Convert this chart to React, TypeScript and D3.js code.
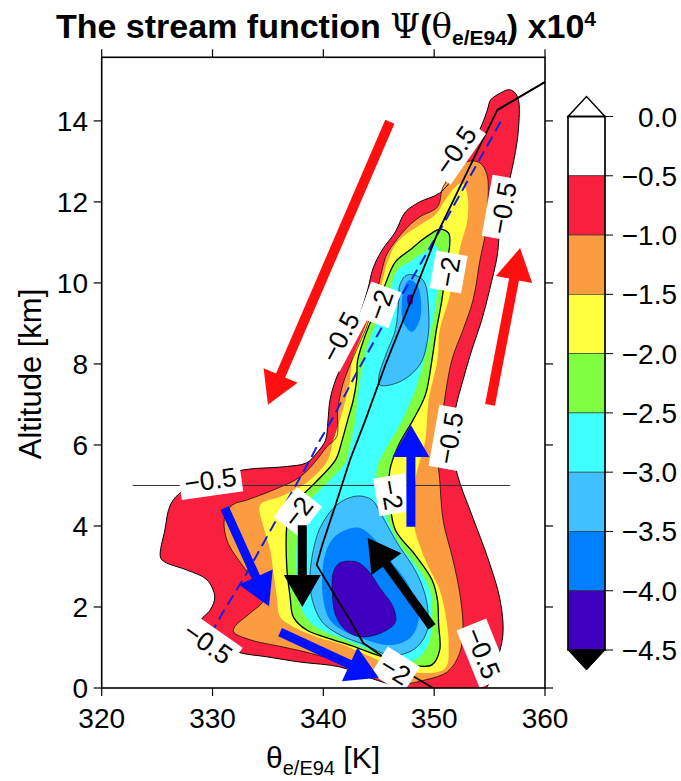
import React from "react";
import * as d3 from "d3";

type P = [number, number];

// axis config
const xTicks = [320, 330, 340, 350, 360];
const yTicks = [0, 2, 4, 6, 8, 10, 12, 14];
const cbLevels = [0.0, -0.5, -1.0, -1.5, -2.0, -2.5, -3.0, -3.5, -4.0, -4.5];
const cbLabels = ["0.0", "\u22120.5", "\u22121.0", "\u22121.5", "\u22122.0", "\u22122.5", "\u22123.0", "\u22123.5", "\u22124.0", "\u22124.5"];
const bandColors = ["#ffffff", "#f9203f", "#fb9c40", "#ffff40", "#80ff40", "#40ffff", "#40c0ff", "#0080ff", "#4000c0"];

// contour outlines (theta K, altitude km)
const psiM05: P[] = [
  [355.1, 14.52], [356.0, 14.69], [356.7, 14.77], [357.2, 14.72], [357.6, 14.52], [357.6, 13.78], [357.2, 13.04],
  [356.6, 12.3], [355.95, 11.43], [355.7, 10.69], [355.0, 9.83], [354.3, 9.09], [353.4, 8.35], [352.6, 7.6],
  [351.9, 6.86], [351.6, 6.12], [352.1, 5.26], [353.4, 4.27], [354.9, 3.16], [355.95, 2.17], [356.2, 1.31],
  [355.5, 0.57], [354.3, -0.1], [348.7, -0.1], [346.5, 0.05], [344.2, 0.25], [341.5, 0.52], [337.9, 0.64],
  [334.9, 0.77], [332.2, 0.89], [329.8, 1.19], [328.9, 1.63], [329.8, 1.93], [330.2, 2.25], [329.5, 2.67],
  [327.7, 2.91], [325.7, 3.11], [325.3, 3.23], [325.7, 3.9], [326.2, 4.52], [327.2, 4.84], [330.2, 5.14],
  [332.7, 5.38], [336.4, 5.46], [338.5, 5.56], [339.4, 5.8], [340.2, 6.12], [340.4, 6.54], [340.6, 7.11],
  [341.1, 7.6], [341.7, 7.98], [342.6, 8.59], [343.3, 9.21], [344.0, 9.83], [344.5, 10.37], [345.3, 10.81],
  [346.5, 11.26], [347.4, 11.75], [348.7, 12.0], [350.5, 12.22], [351.9, 12.67], [353.2, 13.28], [354.3, 13.9],
  [354.8, 14.27],
];
const psiM10: P[] = [
  [352.34, 12.91], [353.24, 13.01], [354.14, 12.96], [354.77, 12.67], [354.86, 12.05], [354.68, 11.31],
  [354.14, 10.57], [353.51, 9.58], [352.6, 8.84], [351.6, 8.1], [350.8, 6.86], [350.3, 5.8], [350.5, 5.14],
  [350.8, 4.15], [351.7, 3.16], [352.3, 2.35], [352.6, 1.51], [352.3, 0.86], [351.2, 0.4], [349.2, 0.2],
  [346.9, 0.1], [344.2, 0.32], [341.5, 0.64], [339.1, 0.84], [336.4, 1.01], [333.4, 1.19], [331.9, 1.38],
  [332.0, 1.51], [333.4, 1.85], [334.6, 2.17], [334.0, 2.59], [332.8, 2.99], [331.3, 3.65], [331.1, 4.22],
  [331.8, 4.52], [333.1, 4.64], [335.5, 4.89], [337.9, 5.21], [339.4, 5.63], [340.3, 5.95], [341.2, 6.2],
  [341.3, 6.86], [341.8, 7.53], [343.0, 8.35], [343.9, 8.91], [344.8, 9.75], [345.3, 10.32], [345.7, 10.69],
  [346.6, 11.06], [347.6, 11.38], [348.7, 11.63], [350.3, 11.88], [350.8, 12.37], [352.1, 12.86],
];
const psiM15: P[] = [
  [352.5, 12.47], [353.0, 12.17], [353.0, 11.56], [352.4, 10.94], [351.9, 10.32], [351.3, 9.58], [350.5, 8.84],
  [350.3, 8.1], [349.5, 7.11], [349.2, 6.12], [348.3, 5.14], [348.1, 4.15], [349.2, 3.16], [350.5, 2.42],
  [351.1, 1.68], [351.3, 1.06], [351.0, 0.49], [348.7, 0.37], [346.0, 0.57], [343.3, 0.89], [341.5, 1.09],
  [339.4, 1.26], [337.3, 1.51], [336.1, 1.75], [335.8, 2.25], [335.5, 2.84], [335.2, 3.41], [334.6, 3.98],
  [334.3, 4.52], [336.1, 4.72], [337.9, 4.96], [339.1, 5.21], [340.4, 5.63], [340.9, 6.12], [341.5, 6.62],
  [342.0, 7.11], [342.4, 7.6], [342.6, 8.1], [343.3, 8.59], [344.2, 9.21], [345.1, 9.83], [345.8, 10.52],
  [346.5, 10.94], [347.4, 11.19], [348.7, 11.43], [350.1, 11.68], [351.0, 12.05], [351.9, 12.37],
];
const psiM20: P[] = [
  [349.8, 11.23], [350.5, 11.33], [351.3, 11.23], [351.4, 10.94], [351.1, 10.44], [350.7, 9.58], [350.2, 8.84],
  [349.8, 8.1], [349.2, 7.23], [348.1, 6.62], [346.8, 6.0], [346.0, 5.38], [346.0, 4.64], [346.5, 3.9],
  [348.3, 3.28], [349.8, 2.67], [350.3, 2.17], [350.4, 1.56], [350.5, 0.94], [349.8, 0.57], [347.8, 0.57],
  [345.1, 0.79], [342.4, 1.06], [340.9, 1.19], [338.5, 1.43], [337.3, 1.75], [337.0, 2.25], [336.7, 2.99],
  [336.7, 4.02], [337.0, 4.52], [338.4, 4.84], [339.7, 5.19], [341.1, 5.63], [341.7, 6.12], [342.2, 6.62],
  [342.7, 7.11], [343.0, 7.6], [343.1, 8.1], [343.8, 8.72], [344.7, 9.33], [345.4, 9.83], [346.5, 10.52],
  [347.8, 10.81], [348.9, 11.06],
];
const psiM25: P[] = [
  [349.45, 10.81], [349.9, 10.96], [350.35, 10.86], [350.5, 10.52], [350.3, 9.83], [349.9, 9.09], [349.2, 8.22],
  [348.3, 7.36], [346.9, 6.49], [345.6, 5.88], [344.8, 5.38], [345.1, 4.77], [345.8, 4.15], [346.9, 3.53],
  [348.3, 3.04], [349.6, 2.42], [349.8, 1.68], [349.45, 1.06], [348.3, 0.69], [346.5, 0.69], [344.2, 0.94],
  [342.0, 1.19], [340.2, 1.38], [338.8, 1.63], [337.9, 2.05], [337.6, 2.67], [337.6, 3.65], [337.9, 4.27],
  [338.8, 4.64], [340.6, 5.14], [342.0, 5.58], [342.4, 6.0], [342.9, 6.62], [343.1, 7.23], [343.5, 7.85],
  [344.0, 8.47], [345.1, 9.21], [346.0, 9.83], [346.7, 10.32], [347.8, 10.52], [348.7, 10.69],
];
const psiM30Upper: P[] = [
  [347.6, 10.2], [349.0, 10.07], [349.5, 9.33], [349.4, 8.59], [348.7, 7.98], [346.9, 7.56], [345.1, 7.48],
  [345.0, 7.68], [345.7, 8.27], [346.5, 8.84], [346.8, 9.58], [346.9, 9.95],
];
const psiM30Lower: P[] = [
  [343.3, 4.74], [344.4, 4.64], [345.1, 4.35], [346.0, 3.9], [346.9, 3.48], [348.0, 3.04], [348.9, 2.54],
  [349.4, 2.0], [349.3, 1.36], [348.1, 0.94], [346.0, 0.81], [343.8, 1.06], [341.5, 1.31], [339.9, 1.63],
  [339.0, 2.17], [338.8, 2.79], [339.1, 3.41], [339.7, 3.95], [340.9, 4.44], [342.1, 4.67],
];
const psiM35Upper: P[] = [
  [347.8, 10.07], [348.5, 9.93], [348.8, 9.58], [348.7, 9.09], [348.0, 8.79], [347.2, 9.04], [347.1, 9.58], [347.3, 9.9],
];
const psiM35Lower: P[] = [
  [342.0, 3.9], [343.3, 3.95], [344.7, 3.65], [346.0, 3.16], [347.4, 2.67], [348.3, 2.17], [348.6, 1.68],
  [347.8, 1.23], [346.0, 1.06], [343.8, 1.19], [342.0, 1.38], [340.6, 1.68], [340.0, 2.17], [339.9, 2.79],
  [340.2, 3.33], [340.9, 3.7],
];
const psiM40Upper: P[] = [
  [347.6, 9.68], [347.95, 9.72], [348.1, 9.58], [347.95, 9.46], [347.65, 9.48], [347.55, 9.58],
];
const psiM40Lower: P[] = [
  [341.5, 3.09], [343.0, 3.11], [344.0, 2.91], [345.1, 2.47], [346.3, 2.0], [346.5, 1.63], [345.6, 1.41],
  [343.5, 1.26], [342.0, 1.43], [341.1, 1.8], [340.8, 2.42], [340.9, 2.86],
];

// overlay lines
const profileLine: P[] = [
  [360.0, 14.96], [355.7, 14.27], [350.3, 11.23], [347.4, 9.21], [345.6, 7.98], [343.8, 6.62], [342.4, 5.63],
  [341.1, 4.52], [339.9, 3.53], [339.4, 3.04], [340.9, 2.35], [342.4, 1.68], [343.6, 1.11], [346.7, 0.52], [349.9, 0.0],
];
const dashedLine: P[] = [
  [356.0, 13.98], [351.2, 11.63], [348.1, 10.15], [345.8, 9.16], [343.0, 7.78], [340.9, 6.69], [339.7, 6.12],
  [338.8, 5.63], [336.1, 4.32], [333.1, 2.84], [330.9, 1.85], [329.2, 1.01],
];
const refLine: P[] = [[322.8, 5.0], [356.85, 5.0]];

// contour labels
const labelText = ["\u22120.5", "\u22120.5", "\u22122", "\u22122", "\u22120.5", "\u22120.5", "\u22120.5", "\u22122", "\u22122", "\u22120.5", "\u22122", "\u22120.5"];
const labelTheta = [351.9, 356.2, 351.3, 345.1, 341.5, 351.4, 329.8, 337.7, 346.2, 354.4, 346.5, 329.6];
const labelZ = [13.28, 11.85, 10.27, 9.46, 8.67, 6.17, 5.14, 4.35, 4.77, 0.86, 0.44, 1.11];
const labelAngle = [-55, -80, -80, -70, -62, -80, -8, -52, 80, 68, 32, 35];

// arrows: [theta, z] of tail and tip
const arrowColor = ["#ff1010", "#ff1010", "#0010ff", "#0010ff", "#0010ff", "#000000", "#000000"];
const arrowTail: P[] = [[346.0, 13.98], [355.04, 6.99], [347.9, 3.98], [331.1, 4.44], [336.1, 1.38], [338.1, 4.02], [349.8, 1.51]];
const arrowTip: P[] = [[335.0, 6.99], [357.75, 10.86], [347.9, 6.49], [335.1, 2.02], [345.0, 0.25], [338.1, 2.0], [344.0, 3.7]];

const FONT = "'Liberation Sans', Arial, Helvetica, sans-serif";

const xs = d3.scaleLinear().domain([320, 360]).range([101.7, 545]);
const ys = d3.scaleLinear().domain([0, 15.57]).range([688, 57.3]);
const cbScale = d3.scaleLinear().domain([0, -4.5]).range([116.5, 650]);

function arrowPoints(t: P, h: P, shaft: number, headW: number, headL: number): string {
  const x1 = xs(t[0]), y1 = ys(t[1]), x2 = xs(h[0]), y2 = ys(h[1]);
  const dx = x2 - x1, dy = y2 - y1;
  const L = Math.hypot(dx, dy);
  const ux = dx / L, uy = dy / L;
  const px = -uy, py = ux;
  const bx = x2 - ux * headL, by = y2 - uy * headL;
  const pts: P[] = [
    [x1 + px * shaft / 2, y1 + py * shaft / 2],
    [bx + px * shaft / 2, by + py * shaft / 2],
    [bx + px * headW / 2, by + py * headW / 2],
    [x2, y2],
    [bx - px * headW / 2, by - py * headW / 2],
    [bx - px * shaft / 2, by - py * shaft / 2],
    [x1 - px * shaft / 2, y1 - py * shaft / 2],
  ];
  return pts.map((p) => p.join(",")).join(" ");
}

export default function App() {
  const closed = d3
    .line<P>()
    .x((d) => xs(d[0]))
    .y((d) => ys(d[1]))
    .curve(d3.curveCatmullRomClosed.alpha(0.5));
  const open = d3
    .line<P>()
    .x((d) => xs(d[0]))
    .y((d) => ys(d[1]));

  const fills: { poly: P[]; color: string }[] = [
    { poly: psiM05, color: bandColors[1] },
    { poly: psiM10, color: bandColors[2] },
    { poly: psiM15, color: bandColors[3] },
    { poly: psiM20, color: bandColors[4] },
    { poly: psiM25, color: bandColors[5] },
    { poly: psiM30Upper, color: bandColors[6] },
    { poly: psiM30Lower, color: bandColors[6] },
    { poly: psiM35Upper, color: bandColors[7] },
    { poly: psiM35Lower, color: bandColors[7] },
    { poly: psiM40Upper, color: bandColors[8] },
    { poly: psiM40Lower, color: bandColors[8] },
  ];
  const strokes: { poly: P[]; w: number }[] = [
    { poly: psiM05, w: 1.0 },
    { poly: psiM10, w: 0.7 },
    { poly: psiM20, w: 1.3 },
    { poly: psiM30Upper, w: 0.6 },
    { poly: psiM30Lower, w: 0.6 },
    { poly: psiM40Lower, w: 0.5 },
  ];

  const x0 = xs(320), x1 = xs(360), y0 = ys(0), y1 = ys(15.57);
  const cbL = 568, cbR = 605, cbMid = (cbL + cbR) / 2;
  const tickLen = 8;

  return (
    <svg
      width={681}
      height={781}
      viewBox="0 0 681 781"
      style={{ position: "absolute", left: 0, top: 0, display: "block", background: "#fff" }}
      fontFamily={FONT}
    >
      <rect x={0} y={0} width={681} height={781} fill="#fff" />
      <defs>
        <clipPath id="plotClip">
          <rect x={x0} y={y1} width={x1 - x0} height={y0 - y1} />
        </clipPath>
      </defs>

      {/* title */}
      <text x={326} y={38} textAnchor="middle" fontSize={34} fontWeight="bold" fill="#000">
        <tspan>The stream function </tspan>
        <tspan fontFamily="'DejaVu Serif', 'Liberation Serif', serif" fontWeight="normal">{"\u03A8"}</tspan>
        <tspan>(</tspan>
        <tspan fontFamily="'DejaVu Serif', 'Liberation Serif', serif" fontWeight="normal">{"\u03B8"}</tspan>
        <tspan fontSize={21} dy={7}>e/E94</tspan>
        <tspan dy={-7}>) x10</tspan>
        <tspan fontSize={21} dy={-12}>4</tspan>
      </text>

      <g clipPath="url(#plotClip)">
        {fills.map((f, i) => (
          <path key={"f" + i} d={closed(f.poly) || ""} fill={f.color} stroke="none" />
        ))}
        {strokes.map((s, i) => (
          <path key={"s" + i} d={closed(s.poly) || ""} fill="none" stroke="#000" strokeWidth={s.w} />
        ))}
        <path d={open(refLine) || ""} fill="none" stroke="#333" strokeWidth={1} />
        <path d={open(dashedLine) || ""} fill="none" stroke="#1020e0" strokeWidth={2} strokeDasharray="11 6" />
        <path d={open(profileLine) || ""} fill="none" stroke="#000" strokeWidth={1.8} />
        {labelText.map((t, i) => {
          const w = t.length > 2 ? 62 : 38;
          return (
            <g key={"l" + i} transform={`translate(${xs(labelTheta[i])},${ys(labelZ[i])}) rotate(${labelAngle[i]})`}>
              <rect x={-w / 2} y={-16} width={w} height={32} fill="#fff" />
              <text x={0} y={9.5} textAnchor="middle" fontSize={26.5} fill="#000">
                {t}
              </text>
            </g>
          );
        })}
        {arrowColor.map((c, i) => (
          <polygon
            key={"a" + i}
            points={arrowPoints(arrowTail[i], arrowTip[i], i < 2 ? 10 : 9, 37, 32)}
            fill={c}
          />
        ))}
      </g>
      {/* profile line continues to the top-right corner */}
      <path d={open(profileLine.slice(0, 2)) || ""} fill="none" stroke="#000" strokeWidth={1.8} />

      {/* frame */}
      <rect x={x0} y={y1} width={x1 - x0} height={y0 - y1} fill="none" stroke="#000" strokeWidth={1.6} />

      {/* x ticks */}
      {xTicks.map((t) => (
        <g key={"xt" + t}>
          <line x1={xs(t)} x2={xs(t)} y1={y0} y2={y0 + tickLen} stroke="#000" strokeWidth={1.2} />
          <line x1={xs(t)} x2={xs(t)} y1={y1} y2={y1 - tickLen} stroke="#000" strokeWidth={1.2} />
          <text x={xs(t)} y={728} textAnchor="middle" fontSize={28} fill="#000">
            {t}
          </text>
        </g>
      ))}
      {/* y ticks */}
      {yTicks.map((t) => (
        <g key={"yt" + t}>
          <line x1={x0} x2={x0 - tickLen} y1={ys(t)} y2={ys(t)} stroke="#000" strokeWidth={1.2} />
          <line x1={x1} x2={x1 + tickLen} y1={ys(t)} y2={ys(t)} stroke="#000" strokeWidth={1.2} />
          <text x={88} y={ys(t) + 10} textAnchor="end" fontSize={28} fill="#000">
            {t}
          </text>
        </g>
      ))}

      {/* axis titles */}
      <text x={323} y={768} textAnchor="middle" fontSize={30} fill="#000">
        <tspan>{"\u03B8"}</tspan>
        <tspan fontSize={20} dy={7}>e/E94</tspan>
        <tspan dy={-7}> [K]</tspan>
      </text>
      <text transform="translate(41,374) rotate(-90)" textAnchor="middle" fontSize={31} fill="#000">
        Altitude [km]
      </text>

      {/* colorbar */}
      {bandColors.map((c, i) => (
        <rect
          key={"cb" + i}
          x={cbL}
          y={cbScale(cbLevels[i])}
          width={cbR - cbL}
          height={cbScale(cbLevels[i + 1]) - cbScale(cbLevels[i])}
          fill={c}
          stroke="#333"
          strokeWidth={0.6}
        />
      ))}
      <polygon
        points={`${cbL},${cbScale(0)} ${cbMid},${cbScale(0) - 20} ${cbR},${cbScale(0)}`}
        fill="#fff"
        stroke="#000"
        strokeWidth={1.5}
      />
      <polygon
        points={`${cbL},${cbScale(-4.5)} ${cbMid},${cbScale(-4.5) + 20} ${cbR},${cbScale(-4.5)}`}
        fill="#000"
        stroke="#000"
        strokeWidth={1}
      />
      <rect x={cbL} y={cbScale(0)} width={cbR - cbL} height={cbScale(-4.5) - cbScale(0)} fill="none" stroke="#000" strokeWidth={1.6} />
      {cbLevels.map((v, i) => (
        <g key={"cbt" + i}>
          <line x1={cbR} x2={cbR + 8} y1={cbScale(v)} y2={cbScale(v)} stroke="#000" strokeWidth={1} />
          <text x={677} y={cbScale(v) + 10} textAnchor="end" fontSize={28} fill="#000">
            {cbLabels[i]}
          </text>
        </g>
      ))}
    </svg>
  );
}
